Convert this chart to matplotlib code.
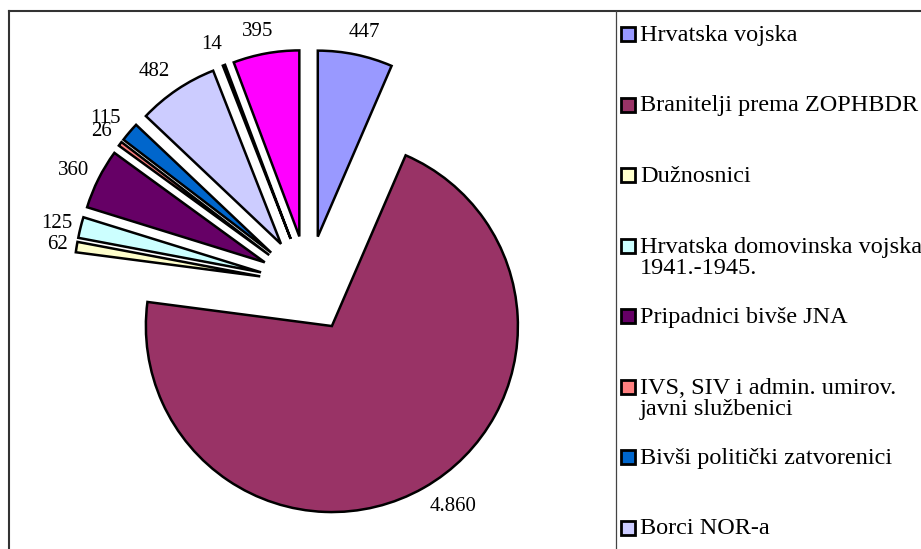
import numpy as np
import matplotlib.pyplot as plt
from matplotlib.patches import Rectangle
from matplotlib.lines import Line2D
from matplotlib.transforms import offset_copy

plt.rcParams['font.family'] = ['Liberation Serif', 'DejaVu Serif']

# data (clockwise from 12 o'clock)
categories = ['Hrvatska vojska', 'Branitelji prema ZOPHBDR', 'Dužnosnici',
              'Hrvatska domovinska vojska\n1941.-1945.', 'Pripadnici bivše JNA',
              'IVS, SIV i admin. umirov.\njavni službenici', 'Bivši politički zatvorenici',
              'Borci NOR-a', '', '']
values = [447, 4860, 62, 125, 360, 26, 115, 482, 14, 395]
value_labels = ['447', '4.860', '62', '125', '360', '26', '115', '482', '14', '395']
colors = ['#9999FF', '#993366', '#FFFFCC', '#CCFFFF', '#660066', '#FF8080',
          '#0066CC', '#CCCCFF', '#FFFFFF', '#FF00FF']

W, H = 921, 549
fig = plt.figure(figsize=(W / 100, H / 100), dpi=100)
ax = fig.add_axes([0, 0, 1, 1])

R = 186            # pie radius in px
cx, cy = 308, 284  # pie centre in px (from top-left)

wedges, _ = ax.pie(values, colors=colors, startangle=90, counterclock=False,
                   explode=[0.26] * len(values),
                   wedgeprops=dict(edgecolor='black', linewidth=1.8))

ax.set_xlim(-cx / R, (W - cx) / R)
ax.set_ylim(-(H - cy) / R, cy / R)
ax.axis('off')

# data labels, excel-like: label box pushed outward by (part of) its size
renderer = fig.canvas.get_renderer()
for w, lab in zip(wedges, value_labels):
    th = np.deg2rad((w.theta1 + w.theta2) / 2)
    c, s = np.cos(th), np.sin(th)
    d = 1.04 + 0.03 * abs(s)
    x0, y0 = w.center
    t = ax.text(x0 + d * c, y0 + d * s, lab, fontsize=15, ha='center', va='center')
    bb = t.get_window_extent(renderer)
    dx = bb.width / 2 * np.sign(c) * min(1, abs(c) / 0.5) * 72 / fig.dpi
    dy = bb.height / 2 * s * 72 / fig.dpi
    t.set_transform(offset_copy(ax.transData, fig=fig, x=dx, y=dy, units='points'))

def fx(px):
    return px / W

def fy(py):
    return 1 - py / H

# chart border (cropped at right / bottom)
fig.add_artist(Line2D([fx(8.5), fx(8.5)], [fy(10.5), fy(H + 5)], color='#333333', lw=1.5))
fig.add_artist(Line2D([fx(8.5), fx(W + 5)], [fy(10.5), fy(10.5)], color='#333333', lw=1.5))
# legend box left edge
fig.add_artist(Line2D([fx(616), fx(616)], [fy(10.5), fy(H + 5)], color='#444444', lw=0.9))

# legend
for i, name in enumerate(categories):
    if not name:
        continue
    y = 34 + 70.5 * i
    fig.add_artist(Rectangle((fx(620.5), fy(y + 7)), 14 / W, 14 / H,
                             facecolor=colors[i], edgecolor='black', lw=2))
    fig.text(fx(640), fy(y - 9), name, fontsize=17.5, va='top', ha='left',
             linespacing=1.05, transform=fig.transFigure)

fig.savefig('out.png', dpi=100)
